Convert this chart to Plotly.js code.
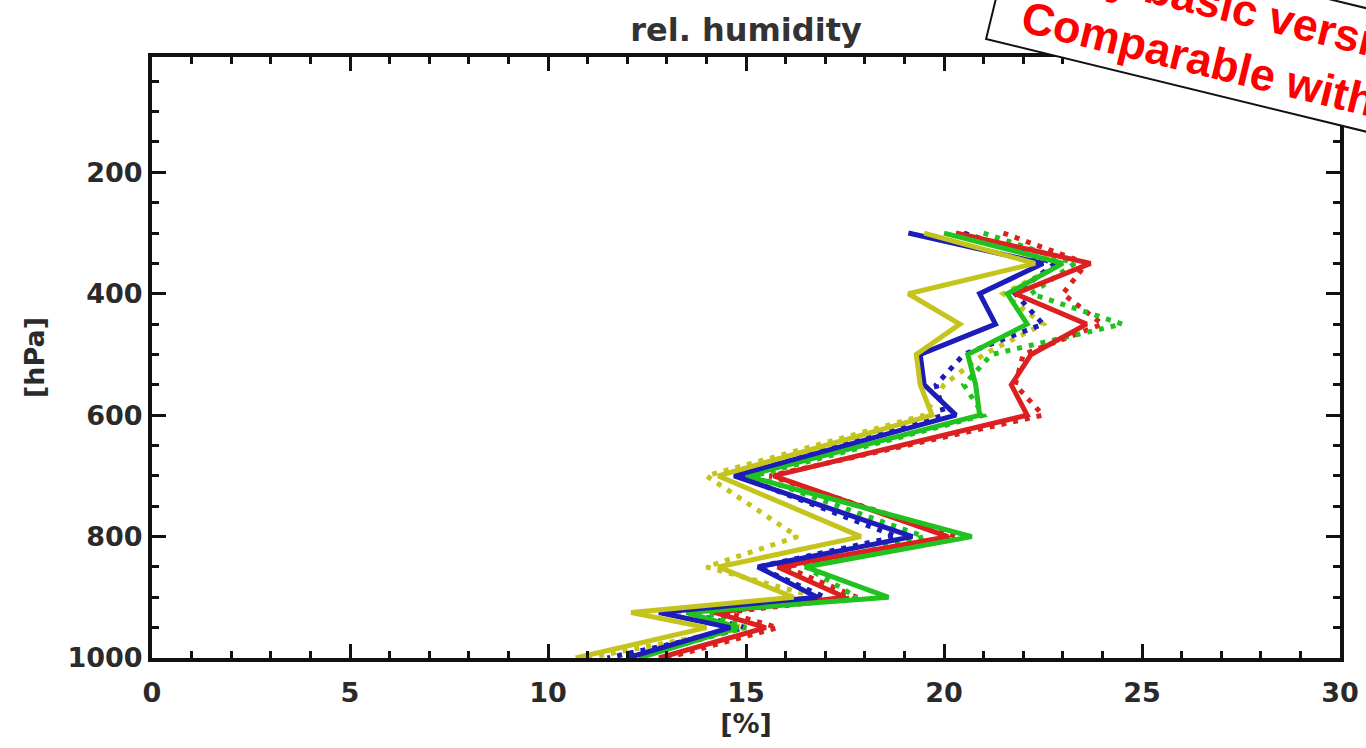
<!DOCTYPE html>
<html>
<head>
<meta charset="utf-8">
<script src="https://cdn.plot.ly/plotly-3.0.1.min.js"></script>
<style>
html,body{margin:0;padding:0;background:#fff;}
#chart{width:1366px;height:748px;}
</style>
</head>
<body>
<div id="chart"></div>
<script>
// Pressure levels [hPa]
const pressure = [300, 350, 400, 450, 500, 550, 600, 700, 800, 850, 900, 925, 950, 1000];

// Solid profiles [%]
const redSolid    = [20.3, 23.7, 21.8, 23.6, 22.2, 21.7, 22.1, 15.7, 20.1, 15.8, 17.5, 14.2, 15.5, 12.8];
const greenSolid  = [20.0, 23.0, 21.6, 22.1, 20.6, 20.8, 20.9, 15.0, 20.7, 16.5, 18.6, 13.5, 14.8, 12.3];
const blueSolid   = [19.1, 22.5, 20.9, 21.3, 19.4, 19.5, 20.3, 14.7, 19.2, 15.3, 16.8, 12.8, 14.6, 12.0];
const yellowSolid = [19.5, 22.3, 19.1, 20.4, 19.3, 19.4, 19.7, 14.3, 17.9, 14.3, 16.2, 12.1, 14.0, 10.7];

// Dotted profiles [%]
const redDot    = [21.5, 23.6, 23.0, 24.0, 22.0, 21.8, 22.5, 15.6, 20.3, 16.0, 17.8, 14.5, 15.8, 13.0];
const greenDot  = [21.0, 23.3, 22.2, 24.5, 21.2, 20.5, 21.0, 15.2, 19.5, 16.5, 17.8, 14.0, 15.0, 12.0];
const blueDot   = [20.5, 22.8, 21.8, 22.5, 20.5, 19.8, 20.0, 14.8, 18.8, 15.3, 17.0, 13.5, 15.0, 11.5];
const yellowDot = [20.5, 23.0, 21.5, 22.5, 21.0, 20.0, 19.5, 14.0, 16.3, 14.0, 16.8, 13.0, 15.0, 11.0];

const xTickVals = [0, 5, 10, 15, 20, 25, 30];
const yTickVals = [200, 400, 600, 800, 1000];

const colors = {red:'#dc2020', green:'#1fc21f', blue:'#1c1cb8', yellow:'#c4c41c'};

function dotTrace(x, c){
  return {x:x, y:pressure, mode:'lines', type:'scatter',
    line:{color:c, width:5, dash:'5px,7px'}, hoverinfo:'skip'};
}
function solidTrace(x, c){
  return {x:x, y:pressure, mode:'lines', type:'scatter',
    line:{color:c, width:5}, hoverinfo:'skip'};
}

const data = [
  dotTrace(yellowDot, colors.yellow),
  dotTrace(blueDot, colors.blue),
  dotTrace(redDot, colors.red),
  dotTrace(greenDot, colors.green),
  solidTrace(redSolid, colors.red),
  solidTrace(greenSolid, colors.green),
  solidTrace(blueSolid, colors.blue),
  solidTrace(yellowSolid, colors.yellow)
];

const fam = 'DejaVu Sans, sans-serif';
const axisFont = {family:fam, size:27, color:'#2a2a2a', weight:'bold'};

const layout = {
  width:1366, height:748,
  margin:{l:152, r:26, t:57, b:90},
  paper_bgcolor:'#fff', plot_bgcolor:'#fff',
  showlegend:false,
  title:{text:'rel. humidity', x:0.5, xref:'paper', xanchor:'center', y:0.96, yanchor:'middle',
         font:{family:fam, size:32, color:'#333', weight:'bold'}},
  xaxis:{range:[0,30], tickvals:xTickVals, ticktext:xTickVals.map(String),
    ticks:'inside', ticklen:14, tickwidth:3, tickcolor:'#111',
    showline:true, linewidth:4, linecolor:'#111', mirror:'ticks',
    showgrid:false, zeroline:false, tickfont:axisFont, ticklabelstandoff:8,
    minor:{dtick:1, tick0:0, ticks:'inside', ticklen:7, tickwidth:3, tickcolor:'#111', showgrid:false},
    title:{text:'[%]', font:axisFont, standoff:2}},
  yaxis:{range:[1000,10], tickvals:yTickVals, ticktext:yTickVals.map(String),
    ticks:'inside', ticklen:14, tickwidth:3, tickcolor:'#111',
    showline:true, linewidth:4, linecolor:'#111', mirror:'ticks',
    showgrid:false, zeroline:false, tickfont:axisFont, ticklabelstandoff:0,
    minor:{dtick:50, tick0:0, ticks:'inside', ticklen:7, tickwidth:3, tickcolor:'#111', showgrid:false},
    title:{text:'[hPa]', font:axisFont, standoff:16}},
  annotations:[{
    xref:'paper', yref:'paper', x:0.898, y:1.039, xanchor:'center', yanchor:'middle',
    text:'<b>&nbsp;&nbsp;Only basic version!<br>&nbsp;&nbsp;Comparable with ...</b>',
    showarrow:false, textangle:13.7, align:'left',
    font:{family:'Liberation Sans, Arial, sans-serif', size:45, color:'#ff0000'},
    bgcolor:'#ffffff', bordercolor:'#111', borderwidth:2, borderpad:4
  }]
};

Plotly.newPlot('chart', data, layout, {displayModeBar:false, staticPlot:true});
</script>
</body>
</html>
